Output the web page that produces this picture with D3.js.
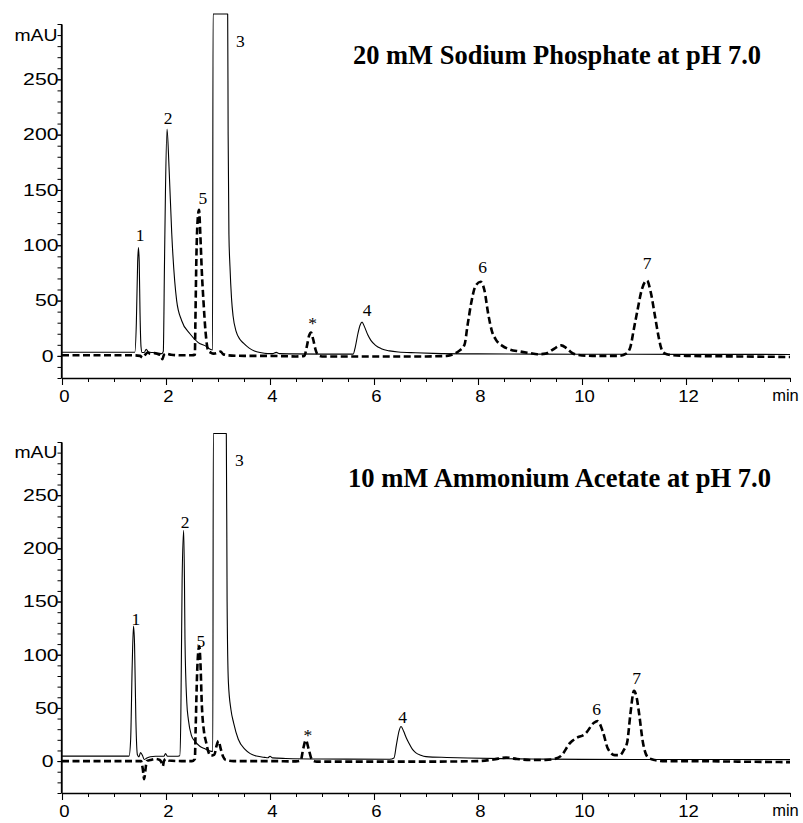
<!DOCTYPE html>
<html>
<head>
<meta charset="utf-8">
<script src="https://cdn.jsdelivr.net/npm/d3@7"></script>
<style>
  html, body { margin: 0; padding: 0; background: #fff; }
  svg { display: block; }
</style>
</head>
<body>
<svg id="chart" width="803" height="823"></svg>
<script>
// ---------------- DATA ----------------
const panelTitles = ["20 mM Sodium Phosphate at pH 7.0", "10 mM Ammonium Acetate at pH 7.0"];
const xTickValues = [0, 2, 4, 6, 8, 10, 12];
const yTickValues = [0, 50, 100, 150, 200, 250];
const yUnitLabel = "mAU";
const xUnitLabel = "min";

// Top panel (20 mM sodium phosphate): [time (min), absorbance (mAU)]
const topSolid = [
  [0,3.3],[1.0,3.3],[1.40,3.3],[1.43,30],[1.455,85],[1.47,98],[1.485,85],[1.50,40],[1.52,8],[1.54,3],
  [1.58,3],[1.62,6],[1.66,3.5],[1.75,3],[1.85,2.5],[1.92,2],[1.948,4],[1.97,80],[1.99,150],[2.02,205],
  [2.058,171],[2.11,111],[2.205,50],[2.30,32],[2.46,20],[2.62,12],[2.78,8.4],[2.85,6],[2.895,5.4],
  [2.905,309],[3.186,309],[3.195,200],[3.21,110],[3.23,81],[3.26,52],[3.29,36],[3.35,22],[3.42,15],
  [3.49,11.5],[3.60,7],[3.70,4.5],[3.81,3],[3.95,2],[4.05,2],[4.12,3.2],[4.18,2],[4.40,1.8],[5.0,1.6],
  [5.60,1.6],[5.64,8],[5.69,20],[5.73,27.5],[5.77,30.5],[5.82,26],[5.88,19],[5.94,14],[6.03,9.5],
  [6.14,6.5],[6.30,4.5],[6.47,3.5],[6.8,2.8],[7.14,2.3],[8,1.8],[10,1.5],[12,1.4],[14,1.3]
];
const topDashed = [
  [0,0.5],[1.35,0.5],[1.5,0],[1.55,-1.5],[1.6,1],[1.65,3],[1.7,2],[1.78,2.5],[1.85,1.5],[1.9,0.5],
  [1.93,-3],[1.96,1],[2.0,2],[2.1,1],[2.3,0.5],[2.5,0.5],[2.555,1],[2.565,30],[2.585,90],[2.605,120],
  [2.635,132],[2.66,110],[2.69,75],[2.72,50],[2.76,22],[2.81,5],[2.86,3],[2.92,2],[2.98,2.5],[3.05,4],
  [3.10,1.5],[3.2,0.5],[3.5,0],[4.0,0],[4.5,-0.5],[4.66,0],[4.71,9],[4.75,18],[4.79,21],[4.83,15],
  [4.88,5],[4.93,0.5],[5.0,-0.5],[6,-0.5],[7,-0.5],[7.4,0],[7.55,2],[7.65,5],[7.74,10],[7.80,28],
  [7.87,48],[7.95,63],[8.05,67],[8.12,60],[8.20,37],[8.27,22],[8.34,15],[8.47,9],[8.60,6],[8.80,4],
  [9.0,2.5],[9.14,1.5],[9.30,2],[9.45,6],[9.60,9.5],[9.70,7],[9.80,3],[9.90,1],[10.2,0],[10.7,0],
  [10.85,2],[10.93,8],[11.0,25],[11.07,42],[11.15,60],[11.25,68],[11.32,58],[11.40,37],[11.47,18],
  [11.53,6],[11.60,2],[11.67,1],[12,0],[13,-0.5],[14,-1]
];
const topPeakLabels = [
  ["1",1.50,109],["2",2.04,215],["5",2.71,143],["3",3.43,285],
  ["*",4.82,33],["4",5.87,41.5],["6",8.09,80.5],["7",11.25,84]
];

// Bottom panel (10 mM ammonium acetate)
const bottomSolid = [
  [0,4.7],[1.29,4.7],[1.32,20],[1.35,90],[1.375,127],[1.395,110],[1.42,40],[1.45,6],[1.48,4],[1.51,8],
  [1.55,5],[1.58,1.5],[1.62,2.5],[1.7,4],[1.8,4.5],[1.9,4.5],[1.96,4.5],[1.99,7],[2.03,4.5],[2.2,4.5],
  [2.265,5],[2.285,40],[2.31,170],[2.34,217],[2.355,170],[2.365,114],[2.40,55],[2.43,39],[2.49,24],
  [2.55,19],[2.65,14],[2.75,11.5],[2.85,9.4],[2.90,9],[2.91,308],[3.16,308],[3.175,150],[3.20,74],
  [3.25,48],[3.30,36],[3.39,20.5],[3.52,11],[3.62,7],[3.74,4.7],[3.9,3.5],[3.96,3.2],[4.0,4.5],
  [4.05,3],[4.3,2.5],[5,2],[6.3,1.8],[6.385,3],[6.43,15],[6.48,28],[6.52,32.5],[6.57,28],[6.62,22],
  [6.67,17],[6.74,11],[6.80,8],[6.9,5.5],[7.0,4.2],[7.4,3.4],[7.8,2.9],[8.47,2.3],[9,2],[10,1.6],
  [12,1.5],[14,1.4]
];
const bottomDashed = [
  [0,0],[1.45,0],[1.52,0],[1.555,-8],[1.58,-17],[1.605,-8],[1.63,0],[1.7,1],[1.8,2],[1.88,1],
  [1.92,-2],[1.94,-4.7],[1.96,0],[2.0,2],[2.05,0.5],[2.3,0],[2.50,0],[2.555,2],[2.57,30],[2.60,85],
  [2.625,105],[2.64,108],[2.66,95],[2.69,52],[2.73,28],[2.77,18],[2.82,8],[2.86,5],[2.93,6],[2.97,14],
  [3.01,19],[3.05,12],[3.10,4],[3.15,1],[3.3,0],[4.0,0],[4.5,-0.3],[4.59,0.5],[4.64,12],[4.69,19.6],
  [4.74,12],[4.81,1],[4.9,-0.5],[5.5,-0.5],[7,-0.5],[8.0,0],[8.3,1.5],[8.54,3.3],[8.75,2],[9.0,1],
  [9.3,1],[9.47,2],[9.60,5],[9.77,17],[9.87,21],[10.07,26],[10.23,36],[10.30,37.6],[10.40,27.8],
  [10.50,11.4],[10.63,5.6],[10.73,5.6],[10.80,10],[10.87,18],[10.93,44],[11.0,66],[11.05,60],
  [11.10,44],[11.17,18],[11.27,3.3],[11.40,1],[11.6,0],[12,0],[13,-0.5],[14,-1]
];
const bottomPeakLabels = [
  ["1",1.42,134],["2",2.37,225],["5",2.67,113],["3",3.41,283],
  ["*",4.73,28],["4",6.55,41],["6",10.28,49],["7",11.05,78]
];

// ---------------- DRAWING ----------------
const svg = d3.select("#chart");
svg.append("rect").attr("width", 803).attr("height", 823).attr("fill", "#fff");

const x = d3.scaleLinear().domain([0, 14]).range([62, 790]);

const panels = [
  { solid: topSolid, dashed: topDashed, labels: topPeakLabels, title: panelTitles[0],
    y: d3.scaleLinear().domain([-20, 300]).range([378, 24]),
    titleX: 353, titleY: 64, titleLen: 408 },
  { solid: bottomSolid, dashed: bottomDashed, labels: bottomPeakLabels, title: panelTitles[1],
    y: d3.scaleLinear().domain([-30, 300]).range([793, 442]),
    titleX: 348, titleY: 486.5, titleLen: 423 }
];

const sans = "'Liberation Sans', Arial, Helvetica, sans-serif";
const serif = "'Liberation Serif', 'Times New Roman', Times, serif";

panels.forEach(p => {
  const g = svg.append("g");
  const y = p.y;
  const [yBottom, yTop] = y.range();
  const axisX = x.range()[0] - 0.5;

  // minor y ticks
  const yMinor = d3.range(y.domain()[0], y.domain()[1] + 1, 10);
  const gyMinor = g.append("g").attr("transform", `translate(${axisX},0)`)
    .call(d3.axisLeft(y).tickValues(yMinor).tickSize(4).tickSizeOuter(0).tickFormat(""));
  gyMinor.select(".domain").remove();
  gyMinor.selectAll("line").attr("stroke", "#000").attr("stroke-width", 1);

  // major y ticks + labels
  const gy = g.append("g").attr("transform", `translate(${axisX},0)`)
    .call(d3.axisLeft(y).tickValues(yTickValues).tickSize(4).tickSizeOuter(0).tickPadding(0).tickFormat(d3.format("d")));
  gy.select(".domain").attr("stroke", "#000").attr("stroke-width", 1.3);
  gy.selectAll("line").attr("stroke", "#000").attr("stroke-width", 1);
  gy.selectAll("text")
    .attr("font-family", sans).attr("font-size", 16.5).attr("fill", "#000")
    .attr("x", d => d === 0 ? -8 : -3)
    .attr("textLength", function(d) { return String(d).length * 11.8; })
    .attr("lengthAdjust", "spacingAndGlyphs");

  g.append("text").text(yUnitLabel)
    .attr("x", axisX - 4).attr("y", y(290)).attr("dy", "0.35em")
    .attr("text-anchor", "end")
    .attr("font-family", sans).attr("font-size", 16)
    .attr("textLength", 43).attr("lengthAdjust", "spacingAndGlyphs");

  // x axis
  const xMinor = d3.range(0, 14.01, 0.5);
  const gxMinor = g.append("g").attr("transform", `translate(0,${yBottom})`)
    .call(d3.axisBottom(x).tickValues(xMinor).tickSize(4).tickSizeOuter(0).tickFormat(""));
  gxMinor.select(".domain").remove();
  gxMinor.selectAll("line").attr("stroke", "#000").attr("stroke-width", 1);

  const gx = g.append("g").attr("transform", `translate(0,${yBottom})`)
    .call(d3.axisBottom(x).tickValues(xTickValues).tickSize(7).tickSizeOuter(0).tickPadding(5).tickFormat(d3.format("d")));
  gx.select(".domain").attr("stroke", "#000").attr("stroke-width", 1.3);
  gx.selectAll("line").attr("stroke", "#000").attr("stroke-width", 1.1);
  gx.selectAll("text")
    .attr("font-family", sans).attr("font-size", 16.5).attr("fill", "#000")
    .attr("dx", 2)
    .attr("textLength", function(d) { return String(d).length * 10.3; })
    .attr("lengthAdjust", "spacingAndGlyphs");

  g.append("text").text(xUnitLabel)
    .attr("x", 785.5).attr("y", yBottom + 23)
    .attr("text-anchor", "middle")
    .attr("font-family", sans).attr("font-size", 16.5);

  // y axis line extended to x axis
  g.append("line")
    .attr("x1", axisX).attr("x2", axisX).attr("y1", yTop).attr("y2", yBottom)
    .attr("stroke", "#000").attr("stroke-width", 1.3);

  // traces
  const line = d3.line().x(d => x(d[0])).y(d => y(d[1])).curve(d3.curveMonotoneX);
  g.append("path").datum(p.solid).attr("d", line)
    .attr("fill", "none").attr("stroke", "#000").attr("stroke-width", 1.1)
    .attr("stroke-linejoin", "round");
  g.append("path").datum(p.dashed).attr("d", line)
    .attr("fill", "none").attr("stroke", "#000").attr("stroke-width", 2.6)
    .attr("stroke-dasharray", "7,3.5");

  // peak labels
  g.selectAll("text.peak").data(p.labels).enter().append("text")
    .attr("class", "peak")
    .attr("x", d => x(d[1])).attr("y", d => y(d[2]))
    .attr("dy", d => d[0] === "*" ? "0.55em" : "0.34em")
    .attr("text-anchor", "middle")
    .attr("font-family", serif).attr("font-size", 17.5)
    .text(d => d[0]);

  // title
  g.append("text").text(p.title)
    .attr("x", p.titleX).attr("y", p.titleY)
    .attr("font-family", serif).attr("font-weight", "bold").attr("font-size", 28)
    .attr("textLength", p.titleLen).attr("lengthAdjust", "spacingAndGlyphs");
});
</script>
</body>
</html>
